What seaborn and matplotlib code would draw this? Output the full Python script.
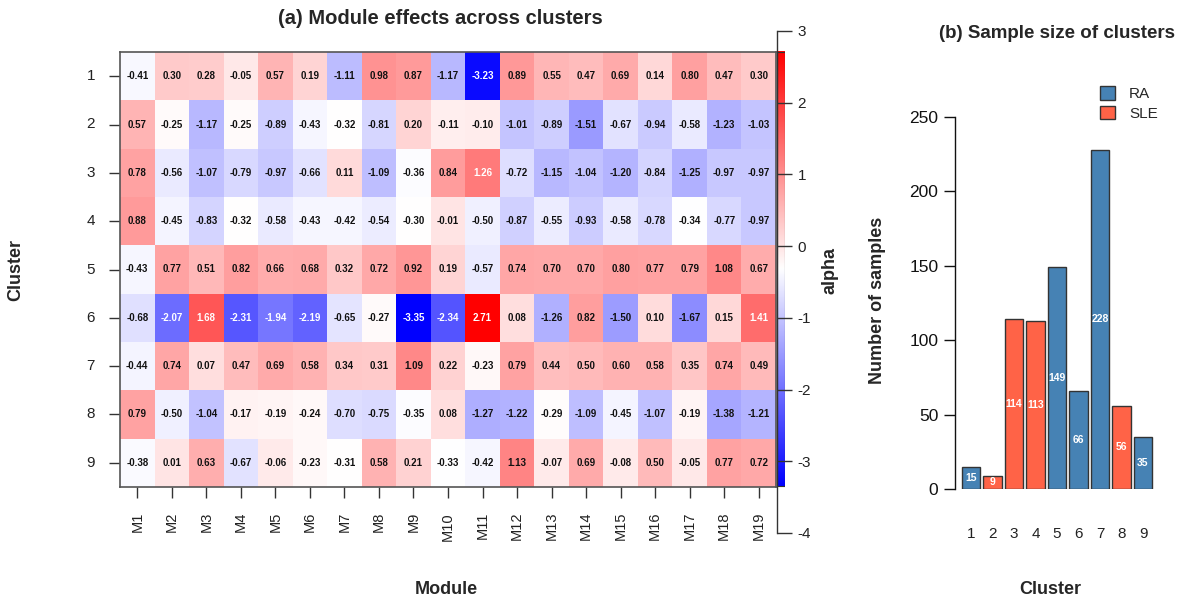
import numpy as np
import pandas as pd
import matplotlib
matplotlib.use('Agg')
import matplotlib.pyplot as plt
from matplotlib.patches import Patch, Rectangle
import seaborn as sns

# ---- data ----
clusters = ['1', '2', '3', '4', '5', '6', '7', '8', '9']
modules = ['M%d' % i for i in range(1, 20)]

alpha_rows = [
    [-0.41, 0.30, 0.28, -0.05, 0.57, 0.19, -1.11, 0.98, 0.87, -1.17, -3.23, 0.89, 0.55, 0.47, 0.69, 0.14, 0.80, 0.47, 0.30],
    [0.57, -0.25, -1.17, -0.25, -0.89, -0.43, -0.32, -0.81, 0.20, -0.11, -0.10, -1.01, -0.89, -1.51, -0.67, -0.94, -0.58, -1.23, -1.03],
    [0.78, -0.56, -1.07, -0.79, -0.97, -0.66, 0.11, -1.09, -0.36, 0.84, 1.26, -0.72, -1.15, -1.04, -1.20, -0.84, -1.25, -0.97, -0.97],
    [0.88, -0.45, -0.83, -0.32, -0.58, -0.43, -0.42, -0.54, -0.30, -0.01, -0.50, -0.87, -0.55, -0.93, -0.58, -0.78, -0.34, -0.77, -0.97],
    [-0.43, 0.77, 0.51, 0.82, 0.66, 0.68, 0.32, 0.72, 0.92, 0.19, -0.57, 0.74, 0.70, 0.70, 0.80, 0.77, 0.79, 1.08, 0.67],
    [-0.68, -2.07, 1.68, -2.31, -1.94, -2.19, -0.65, -0.27, -3.35, -2.34, 2.71, 0.08, -1.26, 0.82, -1.50, 0.10, -1.67, 0.15, 1.41],
    [-0.44, 0.74, 0.07, 0.47, 0.69, 0.58, 0.34, 0.31, 1.09, 0.22, -0.23, 0.79, 0.44, 0.50, 0.60, 0.58, 0.35, 0.74, 0.49],
    [0.79, -0.50, -1.04, -0.17, -0.19, -0.24, -0.70, -0.75, -0.35, 0.08, -1.27, -1.22, -0.29, -1.09, -0.45, -1.07, -0.19, -1.38, -1.21],
    [-0.38, 0.01, 0.63, -0.67, -0.06, -0.23, -0.31, 0.58, 0.21, -0.33, -0.42, 1.13, -0.07, 0.69, -0.08, 0.50, -0.05, 0.77, 0.72],
]

sample_sizes = [15, 9, 114, 113, 149, 66, 228, 56, 35]
disease = ['RA', 'SLE', 'SLE', 'SLE', 'RA', 'RA', 'RA', 'SLE', 'RA']
disease_colors = {'RA': '#4682B4', 'SLE': '#FF6347'}

# ---- setup ----
sns.set_style('white')
plt.rcParams['font.family'] = ['Liberation Sans', 'DejaVu Sans']
plt.rcParams['axes.unicode_minus'] = False

W, H = 1189, 600
fig = plt.figure(figsize=(W / 100, H / 100), dpi=100)


def box(x0, y0, x1, y1):
    # pixel box (top-left origin) -> figure fraction rect
    return [x0 / W, 1 - y1 / H, (x1 - x0) / W, (y1 - y0) / H]


# ---- (a) heatmap ----
alpha_df = pd.DataFrame(alpha_rows, index=clusters, columns=modules)
vmin, vmax = alpha_df.values.min(), alpha_df.values.max()
mid = (vmin + vmax) / 2

ax = fig.add_axes(box(120, 52, 776, 487))
sns.heatmap(alpha_df, ax=ax, cmap='bwr', vmin=vmin, vmax=vmax, cbar=False,
            annot=True, fmt='.2f',
            annot_kws={'fontsize': 7, 'fontweight': 'bold'})
flat = alpha_df.values.flatten()
for t, v in zip(ax.texts, flat):
    t.set_color('white' if abs(v - mid) > 1.5 else '#111111')

for s in ax.spines.values():
    s.set_visible(True)
    s.set_color('#555555')
    s.set_linewidth(1.2)
ax.tick_params(axis='both', which='both', length=8, width=1, color='#333333',
               bottom=True, left=True)
ax.tick_params(axis='y', labelsize=11, pad=10, labelcolor='#222222')
ax.tick_params(axis='x', labelsize=10.5, pad=10, labelcolor='#222222')
ax.set_yticklabels(clusters, rotation=0)
ax.set_xticklabels(modules, rotation=90)
ax.set_xlabel('')
ax.set_ylabel('')

fig.text(440 / W, 1 - 18 / H, '(a) Module effects across clusters',
         ha='center', va='center', fontsize=14.5, fontweight='bold')
fig.text(16 / W, 1 - 270 / H, 'Cluster', ha='center', va='center',
         rotation=90, fontsize=13, fontweight='bold')
fig.text(446 / W, 1 - 590 / H, 'Module', ha='center', va='center',
         fontsize=13, fontweight='bold')

# colour key
cax = fig.add_axes(box(777, 31, 785, 533))
grad = np.linspace(vmin, vmax, 256).reshape(-1, 1)
cax.imshow(grad, cmap='bwr', vmin=vmin, vmax=vmax, aspect='auto',
           origin='lower', extent=[0, 1, vmin, vmax])
cax.add_patch(Rectangle((0, vmin), 1, vmax - vmin, fill=False,
                        edgecolor='#333333', linewidth=0.8))
cax.set_xlim(0, 1)
cax.set_ylim(-4, 3)
cax.set_xticks([])
cax.set_yticks(range(-4, 4))
for side in ['top', 'right', 'bottom']:
    cax.spines[side].set_visible(False)
cax.spines['left'].set_color('#333333')
cax.spines['left'].set_linewidth(1)
cax.tick_params(axis='y', left=True, right=False, labelleft=False,
                labelright=True, direction='in', length=11, width=1,
                color='#333333', labelsize=11, pad=9, labelcolor='#222222')
fig.text(830 / W, 1 - 270 / H, 'alpha', ha='center', va='center',
         rotation=90, fontsize=13, fontweight='bold')

# ---- (b) sample sizes ----
bar_df = pd.DataFrame({'cluster': clusters, 'n': sample_sizes, 'disease': disease})
bx = fig.add_axes(box(955, 117, 1160, 489))
sns.barplot(data=bar_df, x='cluster', y='n', hue='disease', order=clusters,
            hue_order=['RA', 'SLE'], palette=disease_colors, dodge=False,
            saturation=1, width=0.88, edgecolor='#333333', linewidth=1,
            ax=bx, legend=False)
for i, v in enumerate(sample_sizes):
    bx.text(i, v / 2, str(v), ha='center', va='center', color='white',
            fontsize=7.5, fontweight='bold')

bx.set_ylim(0, 250)
bx.set_xlim(-0.744, 8.79)
bx.set_yticks([0, 50, 100, 150, 200, 250])
for side in ['top', 'right', 'bottom']:
    bx.spines[side].set_visible(False)
bx.spines['left'].set_color('#111111')
bx.spines['left'].set_linewidth(1)
bx.tick_params(axis='y', left=True, length=8, width=1, color='#111111',
               labelsize=12.5, pad=4, labelcolor='#111111')
bx.tick_params(axis='x', bottom=False, labelsize=11, pad=24, labelcolor='#222222')
bx.set_xlabel('')
bx.set_ylabel('')

handles = [Patch(facecolor=disease_colors[k], edgecolor='#333333', label=k)
           for k in ['RA', 'SLE']]
bx.legend(handles=handles, loc='upper left', frameon=False,
          bbox_to_anchor=(1094 / W, 1 - 80 / H), bbox_transform=fig.transFigure,
          handlelength=1.0, handleheight=1.0, handletextpad=0.9,
          labelspacing=0.3, fontsize=11, borderaxespad=0)

fig.text(1057 / W, 1 - 33 / H, '(b) Sample size of clusters',
         ha='center', va='center', fontsize=13.5, fontweight='bold')
fig.text(878 / W, 1 - 300 / H, 'Number of samples', ha='center', va='center',
         rotation=90, fontsize=13, fontweight='bold')
fig.text(1050 / W, 1 - 590 / H, 'Cluster', ha='center', va='center',
         fontsize=13, fontweight='bold')

fig.savefig('out.png', dpi=100)
